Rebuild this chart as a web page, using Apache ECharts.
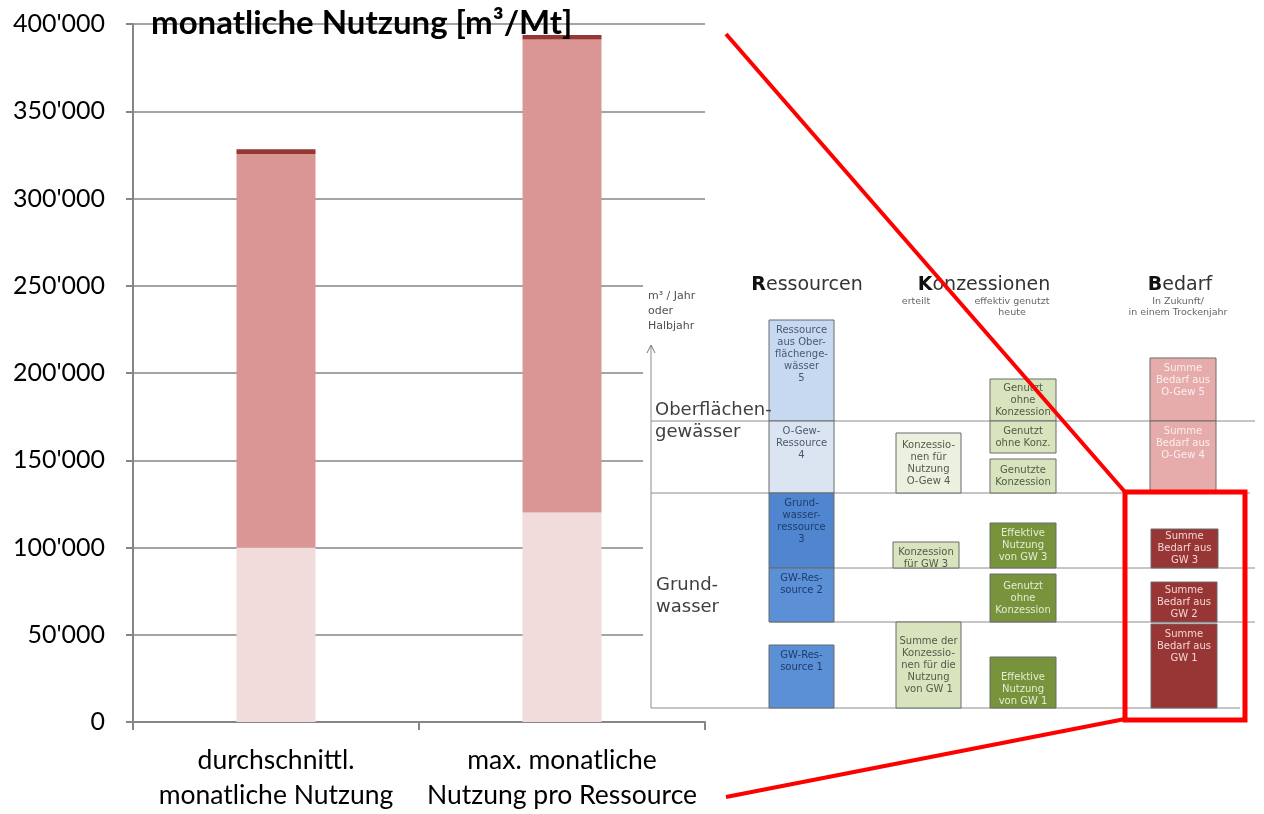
<!DOCTYPE html>
<html>
<head>
    <meta charset="UTF-8">
    <title>monatliche Nutzung</title>
    <style>
        html, body {
            margin: 0;
            padding: 0;
            background: #fff;
        }
        #chart-container {
            width: 1264px;
            height: 814px;
        }
    </style>
</head>
<body>
<div id="chart-container"></div>

<script src="https://cdn.jsdelivr.net/npm/echarts@6/dist/echarts.min.js"></script>
<script>
    // Werte der Balken (m3 pro Monat)
    const categories = ['durchschnittl.\nmonatliche Nutzung', 'max. monatliche\nNutzung pro Ressource'];
    const basisValues = [100000, 120000];
    const zusatzValues = [225500, 271100];
    const spitzeValues = [2700, 2600];

    const barColors = ['#f2dcdb', '#d99694', '#953735'];
    const labelFont = 'Lato, "Open Sans", sans-serif';
    const diagFont = '"DejaVu Sans", Verdana, sans-serif';

    // eingefügtes Schema rechts (Bild) - Kästchen: text, x, y, w, h, Füllung, Textfarbe, Textlage
    const schemaBoxes = [
        ['Ressource\naus Ober-\nflächenge-\nwässer\n5', 769, 320, 65, 101, '#c6d9f1', '#4a5a72', 't'],
        ['O-Gew-\nRessource\n4', 769, 421, 65, 72, '#dbe5f1', '#4a5a72', 't'],
        ['Grund-\nwasser-\nressource\n3', 769, 493, 65, 75, '#4f86cf', '#1f3d6b', 't'],
        ['GW-Res-\nsource 2', 769, 568, 65, 54, '#5b8fd6', '#1f3d6b', 't'],
        ['GW-Res-\nsource 1', 769, 645, 65, 63, '#5b8fd6', '#1f3d6b', 't'],
        ['Konzessio-\nnen für\nNutzung\nO-Gew 4', 896, 433, 65, 60, '#ebf1de', '#555a4a', 'm'],
        ['Konzession\nfür GW 3', 893, 542, 66, 26, '#d7e4bd', '#555a4a', 't'],
        ['Summe der\nKonzessio-\nnen für die\nNutzung\nvon GW 1', 896, 622, 65, 86, '#d7e4bd', '#555a4a', 'm'],
        ['Genutzt\nohne\nKonzession', 990, 379, 66, 42, '#d7e4bd', '#555a4a', 'm'],
        ['Genutzt\nohne Konz.', 990, 421, 66, 32, '#d7e4bd', '#555a4a', 'm'],
        ['Genutzte\nKonzession', 990, 459, 66, 34, '#d7e4bd', '#555a4a', 'm'],
        ['Effektive\nNutzung\nvon GW 3', 990, 523, 66, 45, '#77933c', '#e4ecd2', 'm'],
        ['Genutzt\nohne\nKonzession', 990, 574, 66, 48, '#77933c', '#e4ecd2', 'm'],
        ['Effektive\nNutzung\nvon GW 1', 990, 657, 66, 51, '#77933c', '#e4ecd2', 'b'],
        ['Summe\nBedarf aus\nO-Gew 5', 1150, 358, 66, 63, '#e6acab', '#fbeeee', 't'],
        ['Summe\nBedarf aus\nO-Gew 4', 1150, 421, 66, 72, '#e6acab', '#fbeeee', 't'],
        ['Summe\nBedarf aus\nGW 3', 1151, 529, 67, 39, '#983535', '#f2d6d6', 'm'],
        ['Summe\nBedarf aus\nGW 2', 1151, 582, 66, 40, '#983535', '#f2d6d6', 'm'],
        ['Summe\nBedarf aus\nGW 1', 1151, 624, 66, 84, '#983535', '#f2d6d6', 't']
    ];
    const schemaLines = [
        [651, 421, 1255, 421], [651, 493, 1250, 493], [770, 568, 1255, 568],
        [770, 622, 1255, 622], [651, 708, 1240, 708], [651, 708, 651, 346]
    ];

    function fmt(v) {
        return String(v).replace(/\B(?=(\d{3})+(?!\d))/g, "'");
    }

    const chart = echarts.init(document.getElementById('chart-container'));

    const graphics = [];
    // weisser Hintergrund des Schemas
    graphics.push({type: 'rect', shape: {x: 643, y: 264, width: 621, height: 452}, style: {fill: '#fff'}, z: 50});
    schemaLines.forEach(function (l) {
        graphics.push({type: 'line', shape: {x1: l[0], y1: l[1], x2: l[2], y2: l[3]},
            style: {stroke: '#8c8c8c', lineWidth: 1}, z: 51});
    });
    // Pfeilspitze
    graphics.push({type: 'polyline', shape: {points: [[647, 353], [651, 345], [655, 353]]},
        style: {stroke: '#777', lineWidth: 1, fill: null}, z: 51});

    schemaBoxes.forEach(function (b) {
        graphics.push({type: 'rect', shape: {x: b[1], y: b[2], width: b[3], height: b[4]},
            style: {fill: b[5], stroke: '#6b6b6b', lineWidth: 1}, z: 52});
        let ty = b[2] + 4, va = 'top';
        if (b[7] === 'm') { ty = b[2] + b[4] / 2; va = 'middle'; }
        if (b[7] === 'b') { ty = b[2] + b[4] - 1; va = 'bottom'; }
        graphics.push({type: 'text', z: 53, style: {
            text: b[0], x: b[1] + b[3] / 2, y: ty, align: 'center', verticalAlign: va,
            fontSize: 10, fontFamily: diagFont, lineHeight: 12, fill: b[6]
        }});
    });

    // Überschriften im Schema
    const heads = [['R', 'essourcen', 807], ['K', 'onzessionen', 984], ['B', 'edarf', 1180]];
    heads.forEach(function (h) {
        graphics.push({type: 'text', z: 53, style: {
            text: '{b|' + h[0] + '}{n|' + h[1] + '}', x: h[2], y: 285, align: 'center', verticalAlign: 'middle',
            rich: {
                b: {fontSize: 19, fontWeight: 'bold', fontFamily: diagFont, fill: '#111'},
                n: {fontSize: 19, fontFamily: diagFont, fill: '#333'}
            }
        }});
    });
    const smallTexts = [
        ['erteilt', 916, 302], ['effektiv genutzt\nheute', 1012, 307], ['In Zukunft/\nin einem Trockenjahr', 1178, 307]
    ];
    smallTexts.forEach(function (s) {
        graphics.push({type: 'text', z: 53, style: {
            text: s[0], x: s[1], y: s[2], align: 'center', verticalAlign: 'middle',
            fontSize: 9.5, lineHeight: 11, fontFamily: diagFont, fill: '#666'
        }});
    });
    graphics.push({type: 'text', z: 53, style: {
        text: 'm³ / Jahr\noder\nHalbjahr', x: 648, y: 289, align: 'left', verticalAlign: 'top',
        fontSize: 11, lineHeight: 15, fontFamily: diagFont, fill: '#505050'
    }});
    graphics.push({type: 'text', z: 53, style: {
        text: 'Oberflächen-\ngewässer', x: 655, y: 421, align: 'left', verticalAlign: 'middle',
        fontSize: 18, lineHeight: 22, fontFamily: diagFont, fill: '#404040'
    }});
    graphics.push({type: 'text', z: 53, style: {
        text: 'Grund-\nwasser', x: 656, y: 596, align: 'left', verticalAlign: 'middle',
        fontSize: 18, lineHeight: 22, fontFamily: diagFont, fill: '#404040'
    }});

    // rote Markierung
    graphics.push({type: 'rect', shape: {x: 1125, y: 492, width: 120, height: 228},
        style: {fill: null, stroke: '#ff0000', lineWidth: 5}, z: 60});
    graphics.push({type: 'line', shape: {x1: 726, y1: 34, x2: 1125, y2: 492},
        style: {stroke: '#ff0000', lineWidth: 4}, z: 60});
    graphics.push({type: 'line', shape: {x1: 1125, y1: 719, x2: 726, y2: 797},
        style: {stroke: '#ff0000', lineWidth: 4}, z: 60});

    const option = {
        animation: false,
        title: {
            text: 'monatliche Nutzung [m³/Mt]',
            left: 146,
            top: 2,
            textStyle: {fontSize: 33, fontWeight: 'bold', fontFamily: labelFont, color: '#000'}
        },
        grid: {left: 133, right: 559, top: 24, bottom: 92},
        xAxis: {
            type: 'category',
            data: categories,
            axisLine: {lineStyle: {color: '#868686', width: 2}},
            axisTick: {show: true, length: 8, lineStyle: {color: '#868686', width: 2}},
            axisLabel: {interval: 0, hideOverlap: false, fontSize: 26.5, fontFamily: labelFont,
                color: '#000', margin: 21, lineHeight: 35}
        },
        yAxis: {
            type: 'value',
            min: 0,
            max: 400000,
            interval: 50000,
            axisLine: {show: true, lineStyle: {color: '#868686', width: 2}},
            axisTick: {show: true, length: 7, lineStyle: {color: '#868686', width: 2}},
            splitLine: {lineStyle: {color: '#868686', width: 1.5}},
            axisLabel: {fontSize: 25, fontFamily: labelFont, color: '#000', margin: 28, formatter: fmt}
        },
        series: [
            {type: 'bar', stack: 'n', data: basisValues, barWidth: 79, itemStyle: {color: barColors[0]}},
            {type: 'bar', stack: 'n', data: zusatzValues, barWidth: 79, itemStyle: {color: barColors[1]}},
            {type: 'bar', stack: 'n', data: spitzeValues, barWidth: 79, itemStyle: {color: barColors[2]}}
        ],
        graphic: {elements: graphics}
    };

    chart.setOption(option);
</script>
</body>
</html>
